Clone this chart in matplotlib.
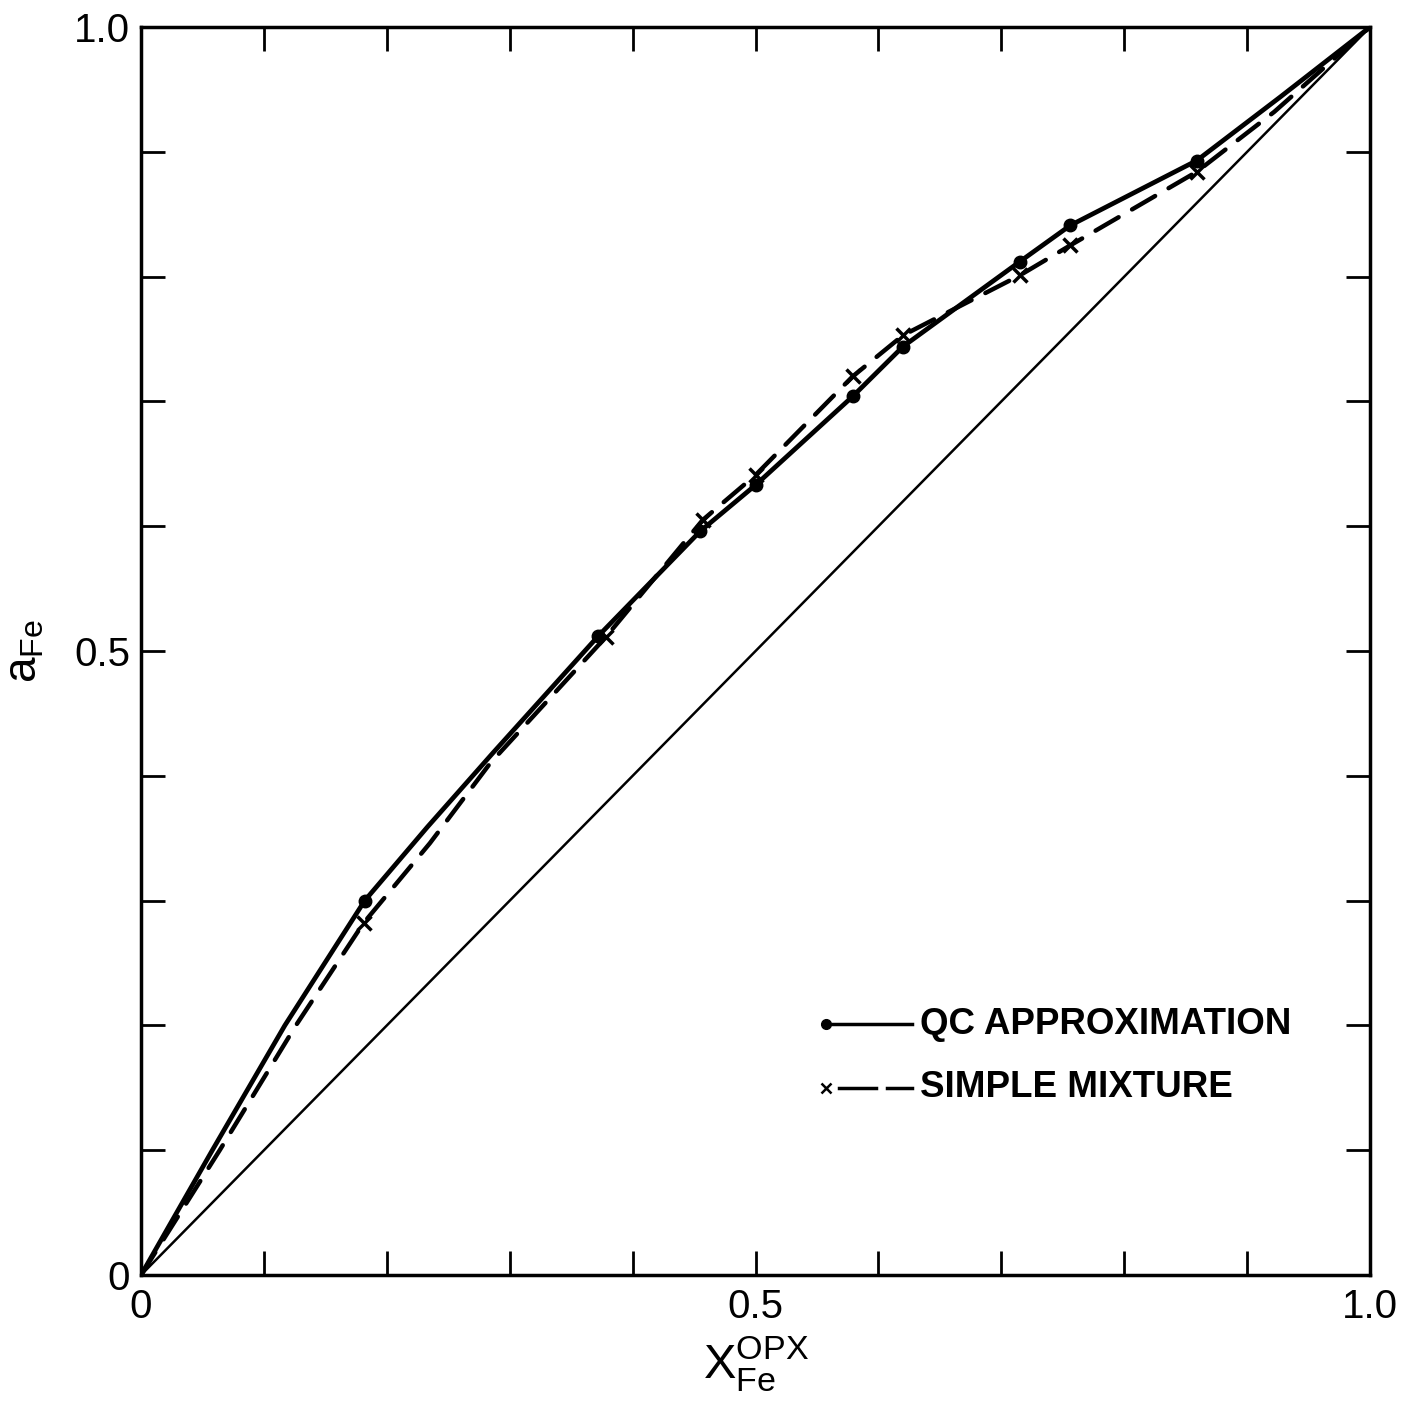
import matplotlib
matplotlib.use("Agg")
import matplotlib.pyplot as plt
from matplotlib.ticker import FixedLocator, FixedFormatter

plt.rcParams['font.family'] = ['Liberation Sans', 'DejaVu Sans']

# QC approximation: full curve and marked points
qc_curve_x = [0.0, 0.058, 0.117, 0.182, 0.233, 0.286, 0.372, 0.455, 0.500, 0.579, 0.620, 0.715, 0.756, 0.859, 0.927, 1.0]
qc_curve_y = [0.0, 0.100, 0.200, 0.300, 0.359, 0.418, 0.512, 0.596, 0.633, 0.704, 0.744, 0.812, 0.841, 0.893, 0.944, 1.0]
qc_pts_x = [0.182, 0.372, 0.455, 0.500, 0.579, 0.620, 0.715, 0.756, 0.859]
qc_pts_y = [0.300, 0.512, 0.596, 0.633, 0.704, 0.744, 0.812, 0.841, 0.893]

# Simple mixture: full curve and marked points
sm_curve_x = [0.0, 0.064, 0.126, 0.181, 0.235, 0.284, 0.378, 0.457, 0.500, 0.579, 0.620, 0.715, 0.756, 0.859, 0.922, 1.0]
sm_curve_y = [0.0, 0.100, 0.200, 0.282, 0.346, 0.410, 0.511, 0.605, 0.641, 0.720, 0.753, 0.801, 0.825, 0.884, 0.932, 1.0]
sm_pts_x = [0.181, 0.378, 0.457, 0.500, 0.579, 0.620, 0.715, 0.756, 0.859]
sm_pts_y = [0.282, 0.511, 0.605, 0.641, 0.720, 0.753, 0.801, 0.825, 0.884]

# ideal (reference) line
ideal_x = [0.0, 1.0]
ideal_y = [0.0, 1.0]

tick_pos = [0.0, 0.1, 0.2, 0.3, 0.4, 0.5, 0.6, 0.7, 0.8, 0.9, 1.0]
tick_labels = ['0', '', '', '', '', '0.5', '', '', '', '', '1.0']

legend_labels = ['QC APPROXIMATION', 'SIMPLE MIXTURE']

fig = plt.figure(figsize=(14.12, 14.07), dpi=100)
ax = fig.add_axes([0.0999, 0.0938, 0.8704, 0.8870])

ax.plot(ideal_x, ideal_y, color='black', lw=1.8)
ax.plot(qc_curve_x, qc_curve_y, color='black', lw=3.4, solid_capstyle='round', solid_joinstyle='round')
ax.plot(sm_curve_x, sm_curve_y, color='black', lw=3.2, linestyle=(0, (6, 3.5)), dash_capstyle='round')
ax.plot(qc_pts_x, qc_pts_y, linestyle='none', marker='o', ms=9, color='black')
ax.plot(sm_pts_x, sm_pts_y, linestyle='none', marker='x', ms=10, mew=2.5, color='black')

ax.set_xlim(0, 1)
ax.set_ylim(0, 1)

for axis in (ax.xaxis, ax.yaxis):
    axis.set_major_locator(FixedLocator(tick_pos))
    axis.set_major_formatter(FixedFormatter(tick_labels))

ax.tick_params(direction='in', length=17, width=2, top=True, right=True,
               labelsize=29)
ax.tick_params(axis='y', pad=8)
ax.tick_params(axis='x', pad=9)
for s in ax.spines.values():
    s.set_linewidth(2.5)

ax.set_xlabel(r'$\mathregular{X_{Fe}^{OPX}}$', fontsize=35, labelpad=6)
ax.set_ylabel(r'$\mathregular{a_{Fe}}$', fontsize=33, labelpad=20)

# legend drawn as key lines with text
tr = ax.transAxes
ax.plot([0.557, 0.627], [0.201, 0.201], transform=tr, color='black', lw=2.5)
ax.plot([0.557], [0.201], transform=tr, marker='o', ms=7, color='black')
ax.text(0.634, 0.201, legend_labels[0], transform=tr, fontsize=26.5, fontweight='bold',
        va='center', ha='left')
ax.plot([0.568, 0.598], [0.150, 0.150], transform=tr, color='black', lw=2.5)
ax.plot([0.607, 0.627], [0.150, 0.150], transform=tr, color='black', lw=2.5)
ax.plot([0.557], [0.150], transform=tr, marker='x', ms=7, mew=1.8, color='black')
ax.text(0.634, 0.150, legend_labels[1], transform=tr, fontsize=26.5, fontweight='bold',
        va='center', ha='left')

fig.savefig('out.png', dpi=100, facecolor='white')
